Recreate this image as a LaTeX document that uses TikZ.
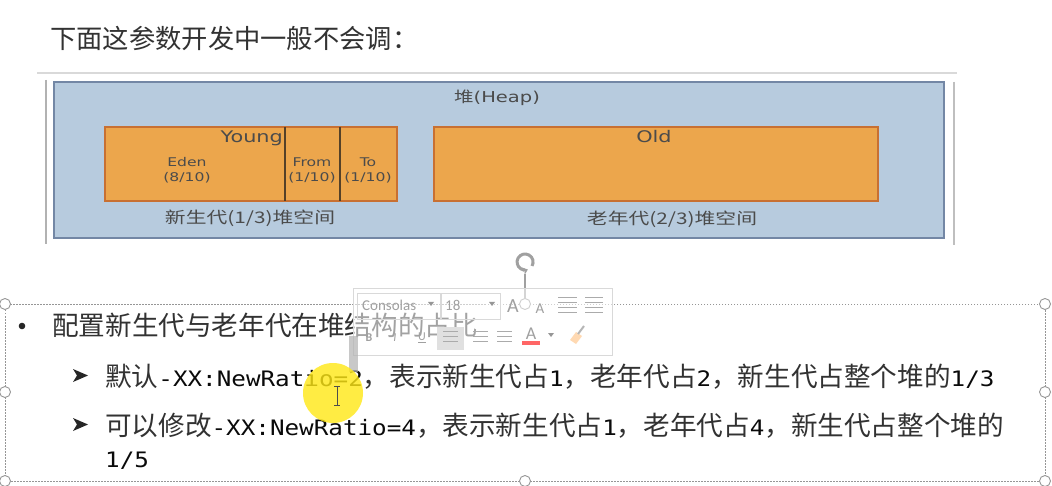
\documentclass[tikz,border=0pt]{standalone}
\usepackage{fontspec}
\newfontfamily\cjk{Noto Sans CJK SC}
\newfontfamily\mono[Scale=0.8,FakeStretch=1.14]{DejaVu Sans Mono}
\newfontfamily\dg[FakeStretch=1.3]{DejaVu Sans}
\newfontfamily\dgcjk[FakeStretch=1.3]{Noto Sans CJK SC}
\newfontfamily\ui{Carlito}
\usetikzlibrary{arrows.meta}
\definecolor{heapblue}{RGB}{183,203,222}
\definecolor{heapedge}{RGB}{115,135,165}
\definecolor{orfill}{RGB}{236,166,76}
\definecolor{oredge}{RGB}{200,112,50}
\definecolor{divider}{RGB}{85,65,40}
\definecolor{dgtext}{RGB}{75,75,75}
\definecolor{bodytext}{RGB}{50,50,50}
\definecolor{monotext}{RGB}{10,10,10}
\definecolor{uigrey}{RGB}{150,150,150}
\definecolor{hilite}{RGB}{255,232,20}
\newcommand\mm[1]{{\mono\color{monotext}#1}}
\tikzset{
  body/.style={anchor=base west, inner sep=0, text=bodytext, font=\cjk\fontsize{26.6}{30}\selectfont},
  genbox/.style={draw=oredge, fill=orfill, line width=1.2pt},
  dglabel/.style={inner sep=0, text=dgtext, align=center},
  handle/.style={circle, draw=uigrey, fill=white, line width=0.9pt, minimum size=11pt, inner sep=0},
  uitext/.style={inner sep=0, text=uigrey!90},
}
\begin{document}
\begin{tikzpicture}[x=1pt,y=-1pt]
\useasboundingbox[fill=white] (0,0) rectangle (1052,486);

% title
\node[body, font=\cjk\fontsize{26.3}{30}\selectfont] (title) at (50,49) {下面这参数开发中一般不会调：};
\draw[black!15, line width=1.5pt] (37,73) -- (957,73);

% picture frame
\draw[black!30, line width=1.6pt] (46,80) -- (46,244);
\draw[black!25, line width=1.6pt] (954,82) -- (954,245);
\node[draw=heapedge, fill=heapblue, line width=1.3pt, minimum width=890pt, minimum height=156pt, inner sep=0] (heap) at (499,160) {};
\node[dglabel, font=\dg\fontsize{15}{18}\selectfont] (heaplbl) at (497,98) {{\dgcjk 堆}(Heap)};

% young generation
\node[genbox, minimum width=292pt, minimum height=74pt, inner sep=0] (young) at (251,164) {};
\draw[divider, line width=1.5pt] (285,127) coordinate (d1a) -- (285,201) coordinate (d1b);
\draw[divider, line width=1.5pt] (340,127) coordinate (d2a) -- (340,201) coordinate (d2b);
\node[dglabel, anchor=base east, font=\dg\fontsize{16}{18}\selectfont] (younglbl) at (283,143) {Young};
\node[dglabel, font=\dg\fontsize{12}{15}\selectfont] (eden) at (187,170) {Eden\\(8/10)};
\node[dglabel, font=\dg\fontsize{12}{15}\selectfont] (from) at (312,170) {From\\(1/10)};
\node[dglabel, font=\dg\fontsize{12}{15}\selectfont] (to) at (368,170) {To\\(1/10)};
\node[dglabel, font=\dgcjk\fontsize{16}{18}\selectfont] (younginfo) at (250,218) {新生代(1/3)堆空间};

% old generation
\node[genbox, minimum width=444pt, minimum height=74pt, inner sep=0] (old) at (656,164) {};
\node[dglabel, anchor=base, font=\dg\fontsize{16}{18}\selectfont] (oldlbl) at (654,143) {Old};
\node[dglabel, font=\dgcjk\fontsize{16}{18}\selectfont] (oldinfo) at (672,219) {老年代(2/3)堆空间};

% text box contents
\fill[black!85] (22,326) circle (3.3);
\node[body] (b0) at (52,335) {配置新生代与老年代在堆结构的占比};
\fill[black!85] (73,369) -- (88,375.5) -- (73,382) -- (77,375.5) -- cycle;
\fill[black!85] (73,418) -- (88,424.5) -- (73,431) -- (77,424.5) -- cycle;
\node[body] (b1) at (105,386) {默认\mm{-XX:NewRatio=2}，表示新生代占\mm{1}，老年代占\mm{2}，新生代占整个堆的\mm{1/3}};
\node[body] (b2) at (105,435) {可以修改\mm{-XX:NewRatio=4}，表示新生代占\mm{1}，老年代占\mm{4}，新生代占整个堆的};
\node[body] (b3) at (105,467) {\mm{1/5}};

% selection frame and handles
\draw[uigrey, line width=0.8pt, dash pattern=on 1.5pt off 1.5pt] (5,304) rectangle (1045,481);
\draw[uigrey!90, line width=1.3pt] (525,274) coordinate (rtop) -- (525,298) coordinate (rbot);
\draw[uigrey!90, line width=3pt, -{Stealth[length=5pt,width=8pt]}] (532,266) arc (30:-290:8);
\foreach \n/\p in {h1/{(5,304)},h2/{(525,304)},h3/{(1045,304)},h4/{(5,392)},h5/{(1045,392)},h6/{(5,481)},h7/{(525,481)},h8/{(1045,481)}}
  \node[handle] (\n) at \p {};

% floating mini toolbar
\node[draw=black!15, fill=white, fill opacity=0.55, draw opacity=1, minimum width=259pt, minimum height=67pt, inner sep=0] (toolbar) at (482.5,321.5) {};
\draw[black!15] (357,293) rectangle (440,319);
\draw[black!15] (441,293) rectangle (500,319);
\node[uitext, anchor=west, font=\ui\fontsize{15}{17}\selectfont] (fontname) at (362,305) {Consolas};
\node[uitext, anchor=west, font=\ui\fontsize{15}{17}\selectfont] (fontsize) at (445,305) {18};
\fill[uigrey] (428,302) -- (434,302) -- (431,306) -- cycle;
\fill[uigrey] (489,302) -- (495,302) -- (492,306) -- cycle;
\node[uitext, font=\ui\fontsize{20}{22}\selectfont] (bigA) at (513,306) {A};
\node[uitext, font=\ui\fontsize{15}{17}\selectfont] (smallA) at (540,309) {A};
\foreach \y in {297,302,307,312} {\draw[uigrey!80] (558,\y) -- (577,\y); \draw[uigrey!80] (585,\y) -- (603,\y);}
\fill[black!12] (437,327) rectangle (464,350);
\node[uitext, font=\ui\bfseries\fontsize{12}{14}\selectfont] (bold) at (369,338) {B};
\node[uitext, font=\ui\itshape\fontsize{12}{14}\selectfont] (ital) at (395,338) {I};
\node[uitext, font=\ui\fontsize{12}{14}\selectfont] (under) at (422,338) {\underline{U}};
\foreach \x in {443,473,497} {\foreach \y in {331,336,341} {\draw[uigrey!80] (\x,\y) -- ++(15,0);}}
\node[uitext, font=\ui\fontsize{18}{20}\selectfont] (colA) at (531,334) {A};
\fill[red!60] (522,341) rectangle (540,345);
\fill[uigrey] (548,333) -- (554,333) -- (551,337) -- cycle;
\fill[orange!30] (570,340) -- (576,332) -- (582,336) -- (576,344) -- cycle;
\draw[uigrey!70, line width=2pt] (578,334) -- (584,326);

% grey cursor bar and click highlight
\fill[black!30, opacity=0.7] (349,336) rectangle (358,372);
\fill[hilite, opacity=0.8] (333,393) circle (30);
\draw[black!70, line width=0.9pt] (337,386) -- (337,405) (334,386) -- (340,386) (334,405) -- (340,405);
\end{tikzpicture}
\end{document}
